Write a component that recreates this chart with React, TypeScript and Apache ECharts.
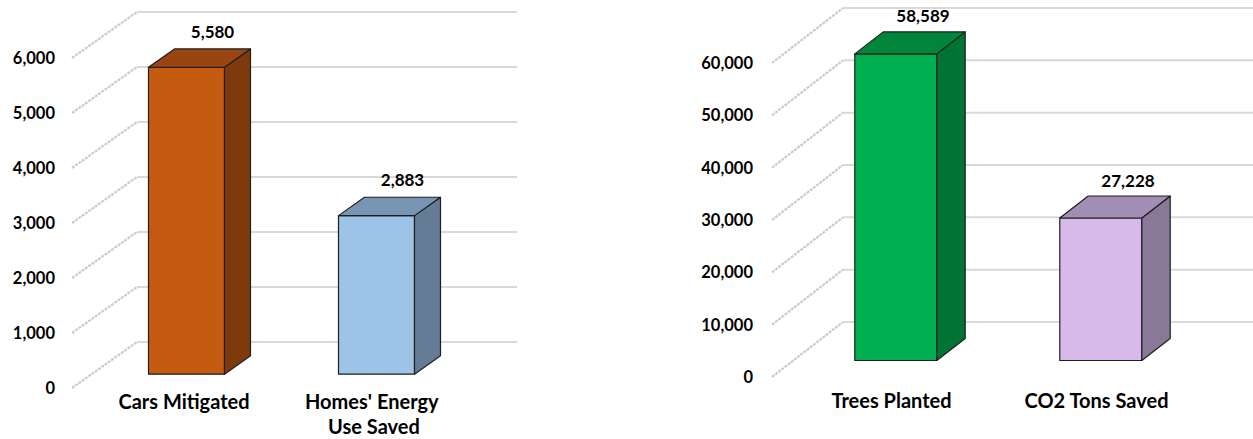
import React, { useEffect, useRef } from "react";
import * as echarts from "echarts";

// ---- data ----
const leftCategories = ["Cars Mitigated", "Homes' Energy Use Saved"];
const leftValues = [5580, 2883];
const leftTicks = [0, 1000, 2000, 3000, 4000, 5000, 6000];

const rightCategories = ["Trees Planted", "CO2 Tons Saved"];
const rightValues = [58589, 27228];
const rightTicks = [0, 10000, 20000, 30000, 40000, 50000, 60000];

// ---- styles ----
const leftColors = [
  { front: "#C55A11", side: "#7E3A0C", top: "#9A4511" },
  { front: "#9DC3E6", side: "#647C95", top: "#7896B3" },
];
const rightColors = [
  { front: "#00B050", side: "#007434", top: "#00853B" },
  { front: "#D7BAEA", side: "#8A7898", top: "#A28DB4" },
];
const FONT = "Lato, 'Open Sans', sans-serif";

function fmt(v: number) {
  return v.toLocaleString("en-US");
}

function gridRender(depth: number[]) {
  return (params: any, api: any) => {
    const cs = params.coordSys;
    const v = api.value(1);
    const y = api.coord([0, v])[1];
    const x0 = cs.x;
    const x1 = cs.x + cs.width;
    const [dx, dy] = depth;
    return {
      type: "group",
      children: [
        {
          type: "line",
          shape: { x1: x0, y1: y, x2: x0 + dx, y2: y + dy },
          style: { stroke: "#cbcbcb", lineWidth: 2.2, lineDash: [3, 1] },
        },
        {
          type: "line",
          shape: { x1: x0 + dx, y1: y + dy, x2: x1 + dx, y2: y + dy },
          style: { stroke: "#d9d9d9", lineWidth: 2 },
        },
      ],
    };
  };
}

function barRender(depth: number[], colors: any[]) {
  return (params: any, api: any) => {
    const idx = api.value(0);
    const val = api.value(1);
    const base = api.coord([idx, 0]);
    const topP = api.coord([idx, val]);
    const band = api.size([1, 0])[0];
    const w = band * 0.4;
    const [Dx, Dy] = depth;
    const f0 = 0.3;
    const bdx = Dx * 0.4;
    const bdy = Dy * 0.4;
    const x0 = base[0] - w / 2 + Dx * f0;
    const x1 = x0 + w;
    const yb = base[1] + Dy * f0;
    const yt = topP[1] + Dy * f0;
    const c = colors[idx];
    const edge = { stroke: "#1e1e1e", lineWidth: 1.2, lineJoin: "round" };
    return {
      type: "group",
      children: [
        {
          type: "polygon",
          shape: { points: [[x0, yb], [x1, yb], [x1, yt], [x0, yt]] },
          style: { fill: c.front, ...edge },
        },
        {
          type: "polygon",
          shape: { points: [[x1, yb], [x1 + bdx, yb + bdy], [x1 + bdx, yt + bdy], [x1, yt]] },
          style: { fill: c.side, ...edge },
        },
        {
          type: "polygon",
          shape: { points: [[x0, yt], [x1, yt], [x1 + bdx, yt + bdy], [x0 + bdx, yt + bdy]] },
          style: { fill: c.top, ...edge },
        },
        {
          type: "text",
          x: (x0 + x1 + bdx) / 2 + 13,
          y: yt + bdy / 2 - 27,
          style: {
            text: fmt(val),
            fill: "#000",
            fontFamily: FONT,
            fontWeight: "bold",
            fontSize: 17,
            align: "center",
            verticalAlign: "middle",
          },
        },
      ],
    };
  };
}

export default function App() {
  const ref = useRef<HTMLDivElement>(null);
  useEffect(() => {
    if (!ref.current) return;
    const chart = echarts.init(ref.current, undefined, { renderer: "svg" });
    const leftDepth = [65, -46];
    const rightDepth = [71, -55];
    const yAxisCommon = (max: number, interval: number, margin: number) => ({
      type: "value",
      min: 0,
      max,
      interval,
      axisLine: { show: false },
      axisTick: { show: false },
      splitLine: { show: false },
      axisLabel: {
        margin,
        color: "#000",
        fontFamily: FONT,
        fontWeight: "bold",
        fontSize: 16.5,
        formatter: (v: number) => fmt(v),
      },
    });
    const xAxisCommon = (gridIndex: number, data: string[], margin: number) => ({
      type: "category",
      gridIndex,
      data,
      axisLine: { show: false },
      axisTick: { show: false },
      splitLine: { show: false },
      axisLabel: {
        margin,
        color: "#000",
        fontFamily: FONT,
        fontWeight: "bold",
        fontSize: 20,
        lineHeight: 25,
        width: 160,
        overflow: "break",
        padding: [0, 0, 0, 34],
        interval: 0,
      },
    });
    chart.setOption({
      animation: false,
      backgroundColor: "#fff",
      grid: [
        { left: 72, top: 58, width: 380, height: 330 },
        { left: 772, top: 63, width: 410, height: 314 },
      ],
      xAxis: [xAxisCommon(0, leftCategories, 0), xAxisCommon(1, rightCategories, 10)],
      yAxis: [
        { ...yAxisCommon(6000, 1000, 17), gridIndex: 0 },
        { ...yAxisCommon(60000, 10000, 19), gridIndex: 1 },
      ],
      series: [
        {
          type: "custom",
          xAxisIndex: 0,
          yAxisIndex: 0,
          renderItem: gridRender(leftDepth),
          data: leftTicks.map((t) => [0, t]),
          z: 1,
          silent: true,
        },
        {
          type: "custom",
          xAxisIndex: 1,
          yAxisIndex: 1,
          renderItem: gridRender(rightDepth),
          data: rightTicks.map((t) => [0, t]),
          z: 1,
          silent: true,
        },
        {
          type: "custom",
          xAxisIndex: 0,
          yAxisIndex: 0,
          renderItem: barRender(leftDepth, leftColors),
          data: leftValues.map((v, i) => [i, v]),
          z: 5,
        },
        {
          type: "custom",
          xAxisIndex: 1,
          yAxisIndex: 1,
          renderItem: barRender(rightDepth, rightColors),
          data: rightValues.map((v, i) => [i, v]),
          z: 5,
        },
      ],
    });
    return () => chart.dispose();
  }, []);
  return (
    <div
      ref={ref}
      style={{ position: "absolute", left: 0, top: 0, width: 1253, height: 439 }}
    />
  );
}
